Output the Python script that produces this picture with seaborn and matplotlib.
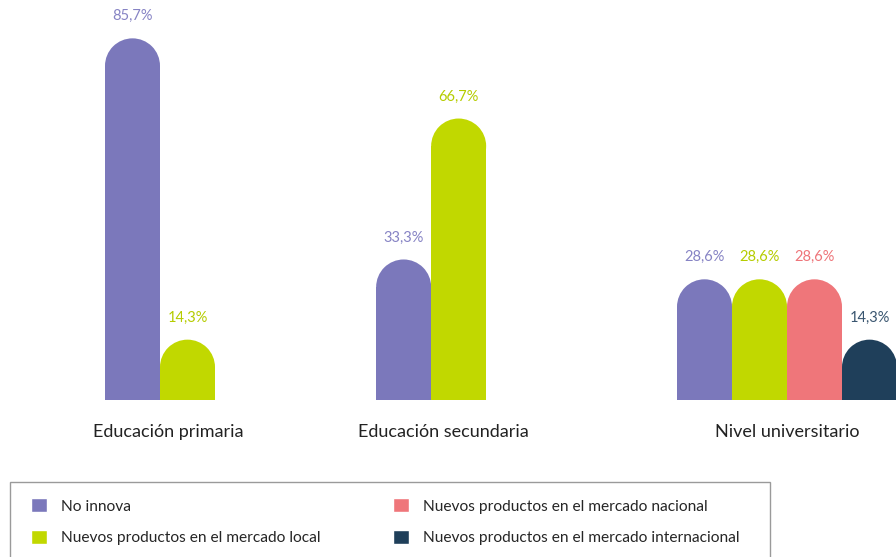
"""
Innovación por nivel educativo
- barras agrupadas con tope redondeado
"""

import pandas as pd
import seaborn as sns
import numpy as np
import matplotlib.pyplot as plt
from matplotlib.patches import Rectangle, Ellipse

grupos = ['Educación primaria', 'Educación secundaria', 'Nivel universitario']
series = ['No innova',
          'Nuevos productos en el mercado local',
          'Nuevos productos en el mercado nacional',
          'Nuevos productos en el mercado internacional']

# valores por serie (0 = no aparece la barra)
no_innova = [85.7, 33.3, 28.6]
mercado_local = [14.3, 66.7, 28.6]
mercado_nacional = [0, 0, 28.6]
mercado_internacional = [0, 0, 14.3]

colores = ['#7b78bb', '#c1d800', '#ef767a', '#1f3f5a']
colores_texto = ['#8683c4', '#b5cc00', '#ee7479', '#3a5670']

# centro de cada grupo y de cada etiqueta (en anchos de barra)
centros_grupo = [1.0, 5.93, 12.4]
centros_etiqueta = [1.15, 6.15, 12.4]

sns.set_style('white')
plt.rcParams['font.family'] = ['Lato', 'DejaVu Sans']

valores = [no_innova, mercado_local, mercado_nacional, mercado_internacional]
filas = []
for i, g in enumerate(grupos):
    activos = [s for s in range(len(series)) if valores[s][i] > 0]
    n = len(activos)
    for k, s in enumerate(activos):
        filas.append({'grupo': g, 'serie': series[s], 'valor': valores[s][i],
                      'pos': centros_grupo[i] + (k - (n - 1) / 2)})
df = pd.DataFrame(filas)

fig = plt.figure(figsize=(8.96, 5.57), dpi=100)
ax = fig.add_axes([0, 157 / 557, 1, 400 / 557])

sns.barplot(data=df, x='pos', y='valor', hue='serie', hue_order=series,
            palette=colores, native_scale=True, dodge=False, width=1,
            saturation=1, legend=False, ax=ax)

ax.set_xlim(-105 / 55, (896 - 105) / 55)
ax.set_ylim(0, 400 / 4.22)

# cambiar rectangulos por barras con tope redondo
px_x = 896 / (ax.get_xlim()[1] - ax.get_xlim()[0])
px_y = 400 / (ax.get_ylim()[1] - ax.get_ylim()[0])
paleta = [tuple(np.round(c, 3)) for c in sns.color_palette(colores)]
for p in list(ax.patches):
    x, w, h = p.get_x(), p.get_width(), p.get_height()
    color = p.get_facecolor()
    p.remove()
    r = (w * px_x / 2) / px_y
    ax.add_patch(Rectangle((x, 0), w, h - r, facecolor=color, linewidth=0))
    ax.add_patch(Ellipse((x + w / 2, h - r), w, 2 * r, facecolor=color, linewidth=0))
    idx = paleta.index(tuple(np.round(color[:3], 3)))
    ax.text(x + w / 2, h + 22 / px_y, f'{h:.1f}%'.replace('.', ','),
            ha='center', va='center', fontsize=10.5, color=colores_texto[idx])

ax.set_xticks(centros_etiqueta)
ax.set_xticklabels(grupos, fontsize=13, color='#222222')
ax.tick_params(axis='x', length=0, pad=17)
ax.set_yticks([])
ax.set_xlabel('')
ax.set_ylabel('')
sns.despine(ax=ax, left=True, bottom=True)

# marco de la leyenda
fig.patches.append(Rectangle((10 / 896, -0.05), 760 / 896, 0.05 + 75 / 557,
                             transform=fig.transFigure, facecolor='white',
                             edgecolor='#9a9a9a', linewidth=1))

handles = [Rectangle((0, 0), 1, 1, facecolor=c) for c in colores]
leg = fig.legend(handles, series, ncol=2, loc='upper left',
                 bbox_to_anchor=(31 / 896, 1 - 498 / 557),
                 fontsize=11.2, frameon=False, borderpad=0, borderaxespad=0,
                 handlelength=1.05, handleheight=1.05, labelspacing=1.05,
                 handletextpad=0.85, columnspacing=4.7)

fig.savefig('out.png', dpi=100)
